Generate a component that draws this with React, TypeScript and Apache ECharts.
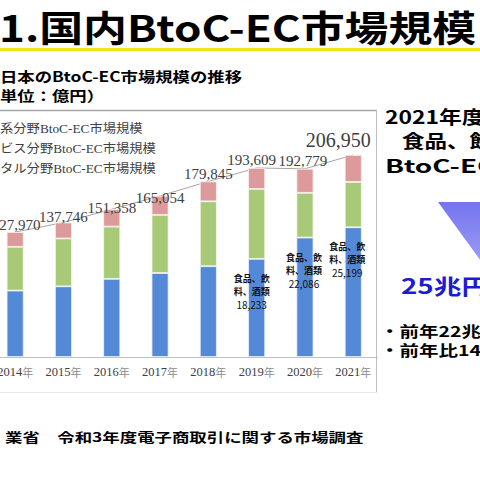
import React, { useEffect, useRef } from "react";
import * as echarts from "echarts";

const YEARS = ["2014年", "2015年", "2016年", "2017年", "2018年", "2019年", "2020年", "2021年"];
const PHYSICAL = [68043, 72398, 80043, 86008, 92992, 100515, 122333, 132865];
const SERVICE = [44816, 49014, 53532, 59568, 66471, 71672, 45832, 46424];
const DIGITAL = [15111, 16334, 17782, 19478, 20382, 21422, 24614, 27661];
const TOTALS = [127970, 137746, 151358, 165054, 179845, 193609, 192779, 206950];
const FOOD = [null, null, null, null, null, 18233, 22086, 25199];
const SERIES_NAMES = [
  "物販系分野BtoC-EC市場規模",
  "サービス分野BtoC-EC市場規模",
  "デジタル分野BtoC-EC市場規模",
];
// legend texts as far as the (cropped) reference shows them
const LEGEND_TEXTS = ["系分野BtoC-EC市場規模", "ビス分野BtoC-EC市場規模", "タル分野BtoC-EC市場規模"];
const TITLE = "1.国内BtoC-EC市場規模";
const SUBTITLE = "日本のBtoC-EC市場規模の推移";
const UNIT = "単位：億円）";
const SIDE_LINES = ["2021年度", "食品、飲", "BtoC-EC"];
const SIDE_VALUE = "25兆円";
const SIDE_NOTES = ["・前年22兆", "・前年比14"];
const SOURCE = "業省　令和3年度電子商取引に関する市場調査";

const TOTAL_LABEL_OFFSETS = [[1, 0], [0, 2], [0, 6], [0, 10], [0, 0], [-5, 0], [-2, 0], [-15, -5]];
const FOOD_LABEL_OFFSETS = [0, 0, 0, 0, 0, -5, -1, -6];

const fmt = (n: number) => String(n).replace(/\B(?=(\d{3})+(?!\d))/g, ",");

const SANS = '"Noto Sans CJK JP", "Noto Sans", sans-serif';
const SERIF = '"Liberation Serif", "Noto Sans CJK JP", serif';

// the chart div starts 9px left of the page so the first category can sit partly off-page
const SHIFT = 9;

function txt(text: string, x: number, y: number, size: number, opts: any = {}) {
  return {
    type: "text",
    x,
    y,
    scaleX: opts.scaleX ?? 1.24,
    z: 10,
    style: {
      text,
      fontSize: size,
      fontWeight: opts.weight ?? "bold",
      fontFamily: opts.family ?? SANS,
      fill: opts.fill ?? "#000",
      align: opts.align ?? "left",
      textAlign: opts.align ?? "left",
      verticalAlign: "middle",
      textVerticalAlign: "middle",
    },
  };
}

export default function App() {
  const ref = useRef<HTMLDivElement>(null);
  useEffect(() => {
    if (!ref.current) return;
    const chart = echarts.init(ref.current, null, { renderer: "svg" });
    const physicalData = PHYSICAL.map((v, i) =>
      FOOD[i] == null
        ? v
        : {
            value: v,
            label: {
              show: true,
              position: "insideTop",
              distance: 13,
              offset: [FOOD_LABEL_OFFSETS[i], 0],
              formatter: () => `{c|食品、飲}\n{c|料、酒類}\n{n|${fmt(FOOD[i] as number)}}`,
              rich: {
                c: { fontFamily: SANS, fontWeight: "bold", fontSize: 9, color: "#111", lineHeight: 13 },
                n: { fontFamily: SANS, fontSize: 10, fontWeight: "normal", color: "#111", lineHeight: 13 },
              },
            },
          }
    );
    const digitalData = DIGITAL.map((v, i) => ({
      value: v,
      label: {
        show: true,
        position: "top",
        distance: 0,
        offset: TOTAL_LABEL_OFFSETS[i],
        formatter: () => fmt(TOTALS[i]),
        fontFamily: SERIF,
        fontSize: i === 7 ? 20 : 15,
        lineHeight: i === 7 ? 20 : 15,
        color: "#404040",
      },
    }));

    const children: any[] = [
      { type: "rect", z: 5, shape: { x: 0, y: 48, width: 480, height: 3 }, style: { fill: "#f3e51c" } },
      txt(TITLE, -1, 26, 36, { scaleX: 1.22 }),
      txt(SUBTITLE, 0, 76, 14),
      txt(UNIT, 0, 95, 14),
      { type: "line", z: 5, shape: { x1: 0, y1: 110.5, x2: 377, y2: 110.5 }, style: { stroke: "#a6a6a6", lineWidth: 1.5 } },
      { type: "line", z: 5, shape: { x1: 376.5, y1: 110, x2: 376.5, y2: 392 }, style: { stroke: "#bfbfbf", lineWidth: 1 } },
      { type: "line", z: 5, shape: { x1: 0, y1: 392.5, x2: 377, y2: 392.5 }, style: { stroke: "#e8e8e8", lineWidth: 1 } },
      txt(LEGEND_TEXTS[0], 0, 129, 12, { family: SERIF, weight: "normal", fill: "#404040", scaleX: 1.11 }),
      txt(LEGEND_TEXTS[1], 0, 149, 12, { family: SERIF, weight: "normal", fill: "#404040", scaleX: 1.11 }),
      txt(LEGEND_TEXTS[2], 0, 169, 12, { family: SERIF, weight: "normal", fill: "#404040", scaleX: 1.11 }),
      txt(SIDE_LINES[0], 385, 116, 18, { scaleX: 1.27 }),
      txt(SIDE_LINES[1], 402, 140, 18, { scaleX: 1.25 }),
      txt(SIDE_LINES[2], 385, 165, 18, { scaleX: 1.55 }),
      {
        type: "polygon",
        z: 5,
        shape: { points: [[438, 202], [556, 202], [497, 283]] },
        style: {
          fill: new echarts.graphic.LinearGradient(0, 0, 0, 1, [
            { offset: 0, color: "#7474ee" },
            { offset: 1, color: "#a9a9f7" },
          ]),
        },
      },
      txt(SIDE_VALUE, 401, 285, 21, { scaleX: 1.32, fill: "#1c1cd0" }),
      txt(SIDE_NOTES[0], 380, 331, 15, { scaleX: 1.3 }),
      txt(SIDE_NOTES[1], 380, 350, 15, { scaleX: 1.3 }),
      txt(SOURCE, 5, 436, 13, { scaleX: 1.34 }),
    ];

    chart.setOption({
      animation: false,
      backgroundColor: "#fff",
      grid: { left: 0, right: 102.6, top: 110, bottom: 123, containLabel: false },
      xAxis: {
        type: "category",
        data: YEARS,
        axisLine: { show: true, lineStyle: { color: "#bfbfbf", width: 1 } },
        axisTick: { show: false },
        axisLabel: {
          margin: 9,
          interval: 0,
          formatter: (v: string) => `{y|${v.slice(0, 4)}}{n|${v.slice(4)}}`,
          rich: {
            y: { fontFamily: SERIF, fontSize: 12.5, color: "#404040" },
            n: { fontFamily: SANS, fontSize: 11, color: "#8c8c8c" },
          },
        },
      },
      yAxis: { type: "value", min: 0, max: 253000, show: false, splitLine: { show: false } },
      series: [
        {
          name: "合計",
          type: "line",
          data: TOTALS,
          z: 1,
          symbol: "none",
          lineStyle: { color: "#a6a6a6", width: 1 },
          silent: true,
        },
        {
          name: SERIES_NAMES[0],
          type: "bar",
          stack: "total",
          barWidth: 17,
          z: 2,
          data: physicalData,
          itemStyle: { color: "#5389d7", borderColor: "#eef3fb", borderWidth: 0.8 },
        },
        {
          name: SERIES_NAMES[1],
          type: "bar",
          stack: "total",
          barWidth: 17,
          z: 2,
          data: SERVICE,
          itemStyle: { color: "#a8c977", borderColor: "#f6f9ef", borderWidth: 0.8 },
        },
        {
          name: SERIES_NAMES[2],
          type: "bar",
          stack: "total",
          barWidth: 17,
          z: 2,
          data: digitalData,
          itemStyle: { color: "#dc9b9a", borderColor: "#fbf1f1", borderWidth: 0.8 },
        },
      ],
      graphic: [{ type: "group", x: SHIFT, y: 0, children }],
    });
    return () => chart.dispose();
  }, []);
  return (
    <div
      ref={ref}
      style={{ position: "fixed", left: -SHIFT, top: 0, width: 480 + SHIFT, height: 480, background: "#fff" }}
    />
  );
}
